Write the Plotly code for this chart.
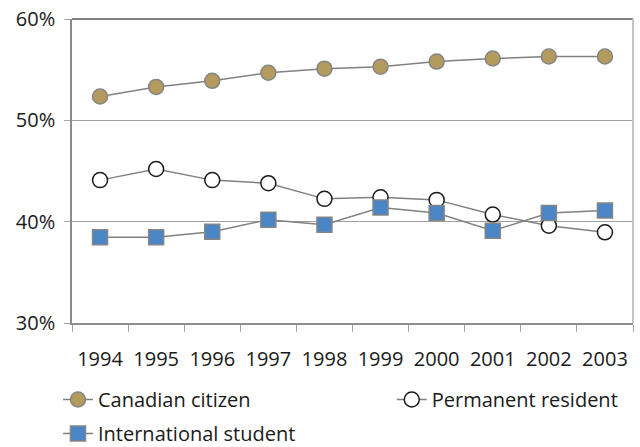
import plotly.graph_objects as go

years = ["1994", "1995", "1996", "1997", "1998", "1999", "2000", "2001", "2002", "2003"]
canadian_citizen = [52.35, 53.3, 53.9, 54.7, 55.1, 55.3, 55.8, 56.1, 56.3, 56.3]
permanent_resident = [44.1, 45.2, 44.1, 43.8, 42.25, 42.4, 42.15, 40.7, 39.6, 38.95]
international_student = [38.45, 38.45, 39.0, 40.2, 39.7, 41.4, 40.85, 39.1, 40.85, 41.1]
y_ticks = [30, 40, 50, 60]
y_tick_labels = ["30%", "40%", "50%", "60%"]

FONT = "Open Sans"
TXT = "#1a1a1a"
LINE = dict(color="#808080", width=1.5)

fig = go.Figure()
fig.add_trace(go.Scatter(
    x=years, y=canadian_citizen, name="Canadian citizen", mode="lines+markers",
    line=LINE, legend="legend",
    marker=dict(symbol="circle", size=15, color="#b39b5e", line=dict(color="#858585", width=1.5)),
))
fig.add_trace(go.Scatter(
    x=years, y=permanent_resident, name="Permanent resident", mode="lines+markers",
    line=LINE, legend="legend2",
    marker=dict(symbol="circle", size=15, color="white", line=dict(color="#1a1a1a", width=1.5)),
))
fig.add_trace(go.Scatter(
    x=years, y=international_student, name="International student", mode="lines+markers",
    line=LINE, legend="legend3",
    marker=dict(symbol="square", size=15, color="#4a86c5", line=dict(color="#858585", width=1.5)),
))

legend_common = dict(
    orientation="v", yanchor="top", xanchor="left",
    font=dict(family=FONT, size=20, color=TXT),
    bgcolor="rgba(0,0,0,0)",
)

fig.update_layout(
    width=640, height=447,
    margin=dict(l=72, r=7, t=19, b=124, autoexpand=False),
    paper_bgcolor="white", plot_bgcolor="white",
    font=dict(family=FONT, size=20, color=TXT),
    showlegend=True,
    legend=dict(x=-0.025, y=-0.1875, **legend_common),
    legend2=dict(x=0.570, y=-0.1875, **legend_common),
    legend3=dict(x=-0.025, y=-0.2993, **legend_common),
    xaxis=dict(
        type="category", tickson="boundaries", ticks="outside", ticklen=7,
        tickcolor="#a6a6a6", showline=True, linecolor="#8c8c8c", linewidth=1.5,
        showgrid=False, tickfont=dict(family=FONT, size=20, color=TXT),
        ticklabelstandoff=17, range=[-0.5, 9.5], automargin=False,
    ),
    yaxis=dict(
        range=[30, 60], tickvals=y_ticks, ticktext=y_tick_labels,
        ticks="outside", ticklen=6, tickcolor="#a6a6a6",
        showline=True, linecolor="#8c8c8c", linewidth=1.5,
        showgrid=True, gridcolor="#a0a0a0", gridwidth=1,
        zeroline=False, tickfont=dict(family=FONT, size=20, color=TXT),
        ticklabelstandoff=5, automargin=False,
    ),
    shapes=[
        dict(type="line", xref="paper", yref="paper", x0=0, x1=1, y0=1, y1=1,
             line=dict(color="#808080", width=2)),
        dict(type="line", xref="paper", yref="paper", x0=1, x1=1, y0=0, y1=1,
             line=dict(color="#c4c4c4", width=2)),
    ],
)

fig.write_html(
    "out.html",
    config={"displayModeBar": False},
    post_script="document.body.style.margin='0';document.body.style.overflow='hidden';",
)
